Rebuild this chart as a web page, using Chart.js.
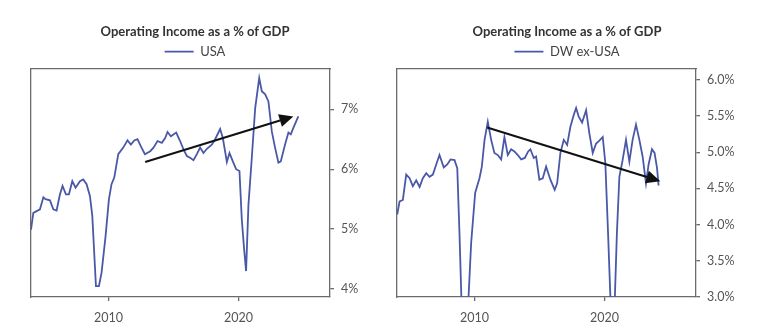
<!DOCTYPE html>
<html>
<head>
<meta charset="utf-8">
<script src="https://cdn.jsdelivr.net/npm/chart.js@4.4.1/dist/chart.umd.min.js"></script>
<style>
  html, body { margin: 0; padding: 0; background: #fff; }
  #wrapUsa { position: absolute; left: 0; top: 0; width: 385px; height: 330px; }
  #wrapExUsa { position: absolute; left: 385px; top: 0; width: 388px; height: 330px; }
</style>
</head>
<body>
<div id="wrapUsa"><canvas id="usaChart"></canvas></div>
<div id="wrapExUsa"><canvas id="exUsaChart"></canvas></div>
<script>
// USA operating income / GDP (%)
const usaYears = [2004.03, 2004.21, 2004.72, 2004.98, 2005.15, 2005.49, 2005.75, 2006.0, 2006.26, 2006.46,
  2006.72, 2006.95, 2007.21, 2007.46, 2007.8, 2008.05, 2008.31, 2008.57, 2008.75, 2008.95,
  2009.03, 2009.26, 2009.46, 2009.77, 2010.03, 2010.23, 2010.44, 2010.75, 2011.13, 2011.46,
  2011.72, 2011.98, 2012.23, 2012.49, 2012.8, 2013.21, 2013.46, 2013.77, 2014.1, 2014.36,
  2014.54, 2014.8, 2015.21, 2015.51, 2015.77, 2016.03, 2016.28, 2016.54, 2016.8, 2017.05,
  2017.31, 2017.57, 2017.95, 2018.21, 2018.59, 2018.8, 2019.11, 2019.31, 2019.57, 2019.82,
  2020.08, 2020.26, 2020.44, 2020.59, 2020.77, 2021.03, 2021.29, 2021.6, 2021.8, 2022.06,
  2022.31, 2022.57, 2022.82, 2023.08, 2023.26, 2023.59, 2023.85, 2024.03, 2024.23, 2024.61];
const usaValues = [4.99, 5.27, 5.33, 5.53, 5.50, 5.48, 5.33, 5.31, 5.58, 5.72,
  5.58, 5.58, 5.80, 5.69, 5.80, 5.83, 5.75, 5.55, 5.22, 4.38,
  4.05, 4.05, 4.27, 4.88, 5.50, 5.75, 5.86, 6.25, 6.36, 6.48,
  6.41, 6.48, 6.50, 6.38, 6.25, 6.30, 6.36, 6.47, 6.44, 6.52,
  6.62, 6.55, 6.61, 6.47, 6.33, 6.22, 6.19, 6.15, 6.25, 6.36,
  6.27, 6.34, 6.41, 6.50, 6.67, 6.52, 6.12, 6.27, 6.13, 6.00,
  5.97, 5.16, 4.66, 4.30, 5.40, 6.19, 7.02, 7.52, 7.30, 7.25,
  7.13, 6.63, 6.36, 6.11, 6.13, 6.41, 6.61, 6.58, 6.69, 6.88];

// DW ex-USA operating income / GDP (%)
const exUsaYears = [2004.05, 2004.23, 2004.48, 2004.74, 2005.0, 2005.25, 2005.51, 2005.77, 2006.02, 2006.28,
  2006.53, 2006.79, 2007.05, 2007.3, 2007.63, 2007.9, 2008.15, 2008.46, 2008.67, 2008.84,
  2009.1, 2009.35, 2009.74, 2010.05, 2010.38, 2010.56, 2010.77, 2011.02, 2011.28, 2011.53,
  2011.79, 2012.05, 2012.3, 2012.56, 2012.82, 2013.07, 2013.33, 2013.59, 2013.87, 2014.13,
  2014.3, 2014.56, 2014.74, 2014.99, 2015.25, 2015.51, 2015.84, 2016.17, 2016.36, 2016.61,
  2016.87, 2017.13, 2017.38, 2017.63, 2017.82, 2018.02, 2018.28, 2018.59, 2018.84, 2019.1,
  2019.36, 2019.61, 2019.87, 2020.07, 2020.28, 2020.6, 2020.68, 2020.96, 2021.15, 2021.4,
  2021.66, 2021.92, 2022.17, 2022.43, 2022.69, 2022.94, 2023.2, 2023.4, 2023.66, 2023.86,
  2024.05, 2024.17];
const exUsaValues = [4.14, 4.32, 4.34, 4.69, 4.64, 4.53, 4.61, 4.52, 4.64, 4.71,
  4.66, 4.69, 4.83, 4.96, 4.79, 4.83, 4.90, 4.89, 4.78, 3.88,
  2.3, 2.3, 3.75, 4.44, 4.64, 4.80, 5.17, 5.42, 5.17, 4.99,
  4.96, 4.90, 5.21, 4.96, 5.04, 5.01, 4.96, 4.90, 4.92, 5.01,
  5.04, 4.92, 4.94, 4.62, 4.64, 4.80, 4.62, 4.48, 4.57, 4.99,
  5.17, 5.10, 5.35, 5.51, 5.61, 5.49, 5.41, 5.58, 5.26, 4.99,
  5.12, 5.16, 5.21, 4.85, 3.88, 2.3, 2.3, 3.88, 4.66, 4.89,
  5.17, 4.87, 5.17, 5.38, 5.17, 4.94, 4.57, 4.83, 5.04, 4.99,
  4.78, 4.54];

const yearTicks = [2010, 2020];
const usaTicks = [4, 5, 6, 7];
const exUsaTicks = [3.0, 3.5, 4.0, 4.5, 5.0, 5.5, 6.0];

// trend arrows: [year, value] start and end
const usaArrow = [[2012.82, 6.12], [2024.23, 6.88]];
const exUsaArrow = [[2010.97, 5.34], [2024.3, 4.60]];

const lineColor = '#4a58a8';
const frameColor = '#6b6b6b';
const tickColor = '#555';
Chart.defaults.font.family = 'Lato, "Open Sans", sans-serif';

const arrowPlugin = {
  id: 'arrow',
  afterDatasetsDraw(chart, args, opts) {
    const x = chart.scales.x, y = chart.scales.y;
    const x1 = x.getPixelForValue(opts.from[0]), y1 = y.getPixelForValue(opts.from[1]);
    const x2 = x.getPixelForValue(opts.to[0]), y2 = y.getPixelForValue(opts.to[1]);
    const ang = Math.atan2(y2 - y1, x2 - x1);
    const len = 14, half = 6.5;
    const bx = x2 - Math.cos(ang) * len, by = y2 - Math.sin(ang) * len;
    const ctx = chart.ctx;
    ctx.save();
    ctx.strokeStyle = '#111';
    ctx.fillStyle = '#111';
    ctx.lineWidth = 2;
    ctx.beginPath();
    ctx.moveTo(x1, y1);
    ctx.lineTo(bx, by);
    ctx.stroke();
    ctx.beginPath();
    ctx.moveTo(x2, y2);
    ctx.lineTo(bx + Math.sin(ang) * half, by - Math.cos(ang) * half);
    ctx.lineTo(bx - Math.sin(ang) * half, by + Math.cos(ang) * half);
    ctx.closePath();
    ctx.fill();
    ctx.restore();
  }
};

function makeChart(id, label, years, values, cfg) {
  const ctx = document.getElementById(id).getContext('2d');
  return new Chart(ctx, {
    type: 'line',
    data: {
      datasets: [{
        label: label,
        data: years.map((yr, i) => ({ x: yr, y: values[i] })),
        xAxisID: 'x',
        yAxisID: 'y',
        borderColor: lineColor,
        backgroundColor: lineColor,
        borderWidth: 1.8,
        pointRadius: 0,
        tension: 0,
        fill: false
      }]
    },
    options: {
      responsive: true,
      maintainAspectRatio: false,
      animation: false,
      layout: { padding: { top: 24, left: cfg.padLeft, right: cfg.padRight, bottom: 0 } },
      plugins: {
        title: {
          display: true,
          text: 'Operating Income as a % of GDP',
          color: '#333',
          font: { size: 13, weight: 'bold' },
          padding: { top: 0, bottom: 0 }
        },
        legend: {
          display: true,
          labels: {
            usePointStyle: true,
            pointStyle: 'line',
            pointStyleWidth: 29,
            color: '#444',
            font: { size: 13 },
            padding: 5.5
          }
        },
        tooltip: { enabled: false },
        arrow: { from: cfg.arrow[0], to: cfg.arrow[1] }
      },
      scales: {
        x: {
          type: 'linear',
          position: 'bottom',
          min: 2004.03,
          max: 2027.05,
          afterFit: s => { s.height = 33; },
          afterBuildTicks: s => { s.ticks = yearTicks.map(v => ({ value: v })); },
          grid: { drawOnChartArea: false, drawTicks: true, tickLength: 4, color: frameColor, lineWidth: 1.3 },
          border: { display: true, color: frameColor, width: 1.3 },
          ticks: { color: tickColor, font: { size: 12.5 }, padding: 9, maxRotation: 0, callback: v => String(v) }
        },
        xTop: {
          type: 'linear',
          position: 'top',
          afterFit: s => { s.height = 1; },
          grid: { drawOnChartArea: false, drawTicks: false },
          border: { display: true, color: frameColor, width: 1.3 },
          ticks: { display: false }
        },
        yLeft: {
          type: 'linear',
          position: 'left',
          afterFit: s => { s.width = 0; },
          grid: { drawOnChartArea: false, drawTicks: false },
          border: { display: true, color: frameColor, width: 1.3 },
          ticks: { display: false }
        },
        y: {
          type: 'linear',
          position: 'right',
          min: cfg.yMin,
          max: cfg.yMax,
          afterFit: s => { s.width = cfg.axisWidth; },
          afterBuildTicks: s => { s.ticks = cfg.ticks.map(v => ({ value: v })); },
          grid: { drawOnChartArea: false, drawTicks: true, tickLength: 4, color: frameColor, lineWidth: 1.3 },
          border: { display: true, color: frameColor, width: 1.3 },
          ticks: { color: tickColor, font: { size: 12.5 }, padding: 7, callback: cfg.format }
        }
      }
    },
    plugins: [arrowPlugin]
  });
}

makeChart('usaChart', 'USA', usaYears, usaValues, {
  padLeft: 31, padRight: 26, axisWidth: 29,
  yMin: 3.867, yMax: 7.67, ticks: usaTicks,
  format: v => v + '%',
  arrow: usaArrow
});

makeChart('exUsaChart', 'DW ex-USA', exUsaYears, exUsaValues, {
  padLeft: 12, padRight: 36, axisWidth: 41,
  yMin: 3.0, yMax: 6.147, ticks: exUsaTicks,
  format: v => v.toFixed(1) + '%',
  arrow: exUsaArrow
});
</script>
</body>
</html>
